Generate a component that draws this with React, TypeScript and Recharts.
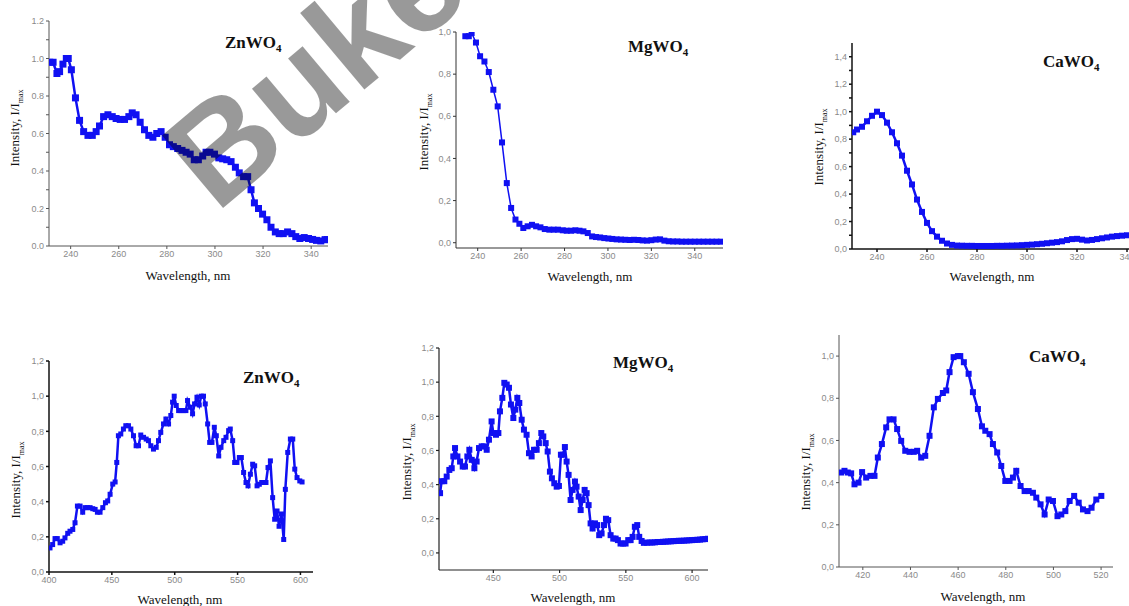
import React from 'react';
import {LineChart, Line, XAxis, YAxis} from 'recharts';

// [wavelength nm, I/Imax] pairs
const znExc = [
    [231.3, 0.98], [232.7, 0.98], [234.3, 0.92], [235.4, 0.93], [236.8, 0.97], [238.2, 1.0], [239, 1.0],
    [240.3, 0.94], [242, 0.79], [243.7, 0.67], [245.4, 0.61], [247.2, 0.59], [249, 0.59], [250.6, 0.61],
    [252, 0.64], [253.7, 0.69], [255.5, 0.70], [257.3, 0.69], [258.9, 0.68], [260.6, 0.675], [262.4, 0.675],
    [264.2, 0.69], [265.6, 0.71], [267.2, 0.70], [268.9, 0.66], [270.7, 0.62], [272.5, 0.59], [274.2, 0.58],
    [275.8, 0.60], [277.6, 0.61], [279.3, 0.58], [281.1, 0.54], [282.7, 0.53], [284.5, 0.52], [286.3, 0.51],
    [288, 0.50], [289.7, 0.49], [291.4, 0.46], [293.1, 0.46], [294.9, 0.48], [296.3, 0.50], [297.9, 0.50],
    [299.8, 0.49], [301.6, 0.47], [303.2, 0.465], [304.9, 0.46], [306.7, 0.45], [308.5, 0.42], [310.1, 0.39],
    [311.9, 0.37], [313.6, 0.37], [315, 0.30], [316.4, 0.23], [318.1, 0.20], [319.8, 0.17], [321.6, 0.14],
    [323.3, 0.10], [325.1, 0.075], [326.7, 0.066], [328.4, 0.066], [330.2, 0.075], [332, 0.066], [333.6, 0.05],
    [335.3, 0.04], [337.1, 0.045], [338.9, 0.04], [340.6, 0.035], [342.2, 0.03], [344, 0.027], [345.8, 0.034],
    [346.8, 0.034],
];

const mgExc = [
    [234.3, 0.98], [235.9, 0.98], [237.2, 0.995], [239.2, 0.95], [241.1, 0.885], [243.1, 0.86], [245.1, 0.81],
    [247.2, 0.726], [249.2, 0.647], [251.2, 0.476], [253.4, 0.283], [255.4, 0.165], [257.4, 0.11], [259.2, 0.09],
    [261, 0.07], [263, 0.078], [265, 0.085], [266.9, 0.078], [268.9, 0.073], [270.9, 0.065], [273, 0.062],
    [275, 0.062], [277, 0.062], [279.2, 0.059], [281, 0.057], [283, 0.057], [285, 0.059], [286.9, 0.057],
    [288.7, 0.054], [290.7, 0.046], [292.7, 0.03], [294.5, 0.027], [296.4, 0.025], [298.3, 0.022], [300.2, 0.02],
    [302, 0.018], [304, 0.016], [306, 0.015], [308, 0.014], [310, 0.013], [312, 0.014], [314, 0.013],
    [316, 0.011], [318, 0.01], [320, 0.012], [322, 0.015], [324, 0.016], [326, 0.01], [328, 0.007],
    [330, 0.006], [332, 0.006], [334, 0.005], [336, 0.005], [338, 0.005], [340, 0.005], [342, 0.005],
    [344, 0.005], [346, 0.005], [348, 0.005], [350, 0.005], [352, 0.005],
];

const caExc = [
    [230.5, 0.85], [232, 0.87], [234, 0.89], [236, 0.93], [238, 0.97], [240, 1.0], [242, 0.975], [244, 0.92],
    [246, 0.85], [248, 0.77], [250, 0.68], [252, 0.57], [254, 0.47], [256, 0.36], [258, 0.27], [260, 0.19],
    [262, 0.13], [264, 0.09], [266, 0.06], [268, 0.04], [270, 0.03], [272, 0.025], [274, 0.024], [276, 0.023],
    [278, 0.023], [280, 0.022], [282, 0.022], [284, 0.022], [286, 0.022], [288, 0.023], [290, 0.023],
    [292, 0.024], [294, 0.025], [296, 0.026], [298, 0.028], [300, 0.03], [302, 0.032], [304, 0.035],
    [306, 0.038], [308, 0.042], [310, 0.046], [312, 0.05], [314, 0.056], [316, 0.065], [318, 0.072],
    [320, 0.074], [322, 0.068], [324, 0.062], [326, 0.066], [328, 0.072], [330, 0.078], [332, 0.084],
    [334, 0.09], [336, 0.094], [338, 0.097], [340, 0.1], [342, 0.1], [344, 0.1],
];

const znEm = [
    [400.8, 0.137], [402.9, 0.156], [404.8, 0.19], [406.6, 0.19], [408.8, 0.166], [410.9, 0.175], [412.7, 0.194],
    [414.9, 0.22], [416.7, 0.232], [418.9, 0.242], [420.7, 0.28], [422.6, 0.375], [424.7, 0.375], [426.8, 0.34],
    [428.7, 0.366], [430.5, 0.366], [432.7, 0.366], [434.8, 0.36], [436.7, 0.356], [438.5, 0.34], [440.6, 0.34],
    [442.8, 0.366], [444.9, 0.394], [446.7, 0.404], [448.6, 0.442], [450.7, 0.5], [452.6, 0.512], [453.9, 0.623],
    [455.2, 0.775], [457.1, 0.785], [459.2, 0.813], [461.1, 0.832], [463.2, 0.832], [465.1, 0.813], [467.2, 0.775],
    [469.3, 0.718], [471.2, 0.718], [473, 0.779], [475.2, 0.766], [477.3, 0.756], [479.1, 0.747], [481, 0.718],
    [483.1, 0.699], [485.3, 0.709], [487.1, 0.747], [488.9, 0.794], [491.1, 0.842], [493, 0.87], [495.1, 0.842],
    [496.9, 0.89], [498.3, 0.966], [499.6, 1.0], [501.2, 0.947], [503.1, 0.918], [504.9, 0.918], [507, 0.918],
    [508.9, 0.918], [510.2, 0.975], [512.4, 0.937], [514.2, 0.9], [515.8, 0.956], [517.7, 0.994], [519.5, 0.95],
    [521.1, 1.0], [522.9, 1.0], [524.3, 0.956], [526.2, 0.842], [527.8, 0.737], [529.6, 0.737], [531.5, 0.823],
    [533.1, 0.775], [535, 0.66], [536.8, 0.709], [539, 0.747], [540.8, 0.766], [542.9, 0.804], [544.2, 0.813],
    [546.1, 0.747], [547.7, 0.623], [549.5, 0.623], [551.4, 0.651], [553, 0.651], [554.8, 0.566], [556.7, 0.509],
    [558.3, 0.49], [560.2, 0.556], [562, 0.613], [563.6, 0.604], [565.5, 0.49], [567.3, 0.499], [569.2, 0.509],
    [570.8, 0.509], [572.6, 0.509], [574.2, 0.594], [576.1, 0.632], [577.9, 0.423], [579.5, 0.3], [581.4, 0.347],
    [583, 0.26], [584.9, 0.33], [586.7, 0.185], [588, 0.47], [589.9, 0.68], [592, 0.756], [593.9, 0.756],
    [595.5, 0.585], [597.3, 0.537], [599.5, 0.518], [601.3, 0.512],
];

const mgEm = [
    [409.8, 0.35], [411, 0.42], [413, 0.42], [414.8, 0.447], [416.8, 0.486], [418.6, 0.496], [419.8, 0.565],
    [421.1, 0.614], [422.9, 0.565], [424.9, 0.535], [426.9, 0.506], [428.6, 0.506], [430.4, 0.565], [431.9, 0.604],
    [433.7, 0.545], [435.7, 0.496], [437.4, 0.535], [439.2, 0.614], [441.2, 0.624], [443, 0.624], [445, 0.604],
    [446.7, 0.663], [448.7, 0.77], [450, 0.702], [452, 0.692], [453.8, 0.702], [455, 0.829], [456.8, 0.908],
    [458.3, 0.996], [460.1, 0.986], [461.8, 0.967], [463.3, 0.869], [465.1, 0.79], [466.6, 0.839], [468.1, 0.908],
    [469.6, 0.878], [471.4, 0.78], [473.1, 0.722], [475.1, 0.692], [476.9, 0.584], [478.9, 0.565], [480.7, 0.604],
    [482.7, 0.604], [484.4, 0.643], [486.2, 0.702], [487.7, 0.682], [489.5, 0.643], [491, 0.594], [492.7, 0.476],
    [494.2, 0.437], [496, 0.408], [497.8, 0.388], [499.5, 0.392], [501, 0.575], [502.5, 0.575], [504, 0.62],
    [505.3, 0.535], [506.8, 0.457], [508.3, 0.31], [509.8, 0.369], [511.6, 0.418], [512.8, 0.388], [514.4, 0.33],
    [515.9, 0.251], [517.4, 0.31], [518.9, 0.369], [520.4, 0.35], [521.9, 0.28], [523.4, 0.173], [524.9, 0.143],
    [526.7, 0.173], [528.4, 0.163], [529.9, 0.104], [531.7, 0.114], [533.5, 0.163], [535, 0.2], [536.7, 0.192],
    [538.5, 0.104], [540.5, 0.084], [542.3, 0.084], [544, 0.075], [546, 0.055], [548, 0.055], [549.8, 0.055],
    [551.8, 0.075], [553.6, 0.075], [555.1, 0.094], [556.8, 0.153], [558.6, 0.163], [560.1, 0.094], [561.9, 0.07],
    [563.6, 0.059], [566, 0.06], [568, 0.061], [570, 0.061], [572, 0.062], [574, 0.064], [576, 0.064],
    [578, 0.065], [580, 0.066], [582, 0.067], [584, 0.068], [586, 0.069], [588, 0.07], [590, 0.071],
    [592, 0.071], [594, 0.072], [596, 0.073], [598, 0.074], [600, 0.075], [602, 0.076], [604, 0.077],
    [606, 0.078], [608, 0.08], [610, 0.081], [612, 0.083],
];

const caEm = [
    [410.9, 0.448], [412.3, 0.456], [413.7, 0.448], [415.1, 0.444], [416.5, 0.392], [418.2, 0.4], [419.7, 0.45],
    [421.4, 0.424], [423.2, 0.432], [424.9, 0.432], [426.3, 0.519], [428, 0.583], [429.8, 0.662], [431.2, 0.7],
    [432.9, 0.7], [434.4, 0.654], [436.1, 0.598], [437.8, 0.551], [439.6, 0.546], [441.4, 0.546], [442.8, 0.551],
    [444.5, 0.519], [446.2, 0.527], [448, 0.622], [449.8, 0.757], [451.5, 0.797], [453.6, 0.825], [455, 0.837],
    [456.4, 0.924], [458.1, 0.995], [459.9, 1.0], [460.9, 1.0], [462.4, 0.971], [464.4, 0.916], [466.2, 0.829],
    [468.3, 0.749], [470, 0.667], [471.4, 0.646], [473.2, 0.63], [474.6, 0.583], [476.4, 0.543], [478.1, 0.479],
    [479.8, 0.408], [481.6, 0.408], [483, 0.424], [484.4, 0.456], [486.2, 0.384], [487.9, 0.36], [489.6, 0.36],
    [491.4, 0.352], [492.8, 0.329], [494.6, 0.297], [496.3, 0.249], [498, 0.32], [499.8, 0.313], [501.7, 0.241],
    [503.3, 0.249], [505, 0.265], [506.8, 0.313], [508.7, 0.337], [510.6, 0.305], [512.4, 0.273], [514.3, 0.265],
    [516, 0.281], [518, 0.32], [520.1, 0.337],
];

const excTicks = [240, 260, 280, 300, 320, 340];
const znEmTicks = [400, 450, 500, 550, 600];
const mgEmTicks = [450, 500, 550, 600];
const caEmTicks = [420, 440, 460, 480, 500, 520];
const yTicks12 = [0, 0.1, 0.2, 0.3, 0.4, 0.5, 0.6, 0.7, 0.8, 0.9, 1.0, 1.1, 1.2];
const yTicks12Major = [0, 0.2, 0.4, 0.6, 0.8, 1.0, 1.2];
const yTicks10 = [0, 0.2, 0.4, 0.6, 0.8, 1.0];
const yTicks14 = [0, 0.1, 0.2, 0.3, 0.4, 0.5, 0.6, 0.7, 0.8, 0.9, 1.0, 1.1, 1.2, 1.3, 1.4];

const BLUE = '#1010f2';
const Y_W = 40;
const X_H = 20;
const PAD = 5;

function squareDot(size: number) {
    return (props: any) => {
        const {cx, cy, index} = props;
        if (cx == null || cy == null) return <g key={index}/>;
        return <rect key={index} x={cx - size / 2} y={cy - size / 2} width={size} height={size} fill={BLUE}/>;
    };
}

function fmt(comma: boolean) {
    return (v: number) => {
        if (Math.round(v * 10) % 2 === 1) return '';
        const s = v.toFixed(1);
        return comma ? s.replace('.', ',') : s;
    };
}

function Panel(p: any) {
    const data = p.points.map((d: number[]) => ({x: d[0], y: d[1]}));
    const w = Y_W + (p.right - p.left) + PAD;
    const h = PAD + (p.bottom - p.top) + X_H;
    const axis = {stroke: p.axisColor, strokeWidth: p.axisWidth};
    const tick = {fontSize: 9, fill: '#8a8a8a', fontFamily: 'Liberation Sans, Arial, sans-serif'};
    return (
        <div style={{position: 'absolute', left: p.left - Y_W, top: p.top - PAD}}>
            <LineChart width={w} height={h} data={data} margin={{top: PAD, right: PAD, bottom: 0, left: 0}}>
                <XAxis type="number" dataKey="x" domain={p.xDomain} ticks={p.xTicks} allowDataOverflow
                       height={X_H} axisLine={axis} tickLine={axis} tickSize={3} tickMargin={2} tick={tick}
                       interval={0}/>
                <YAxis type="number" domain={p.yDomain} ticks={p.yTicks} allowDataOverflow width={Y_W}
                       axisLine={axis} tickLine={axis} tickSize={3} tickMargin={2} tick={tick} interval={0}
                       tickFormatter={fmt(p.comma)}/>
                <Line type="linear" dataKey="y" stroke={BLUE} strokeWidth={p.stroke} dot={squareDot(p.marker)}
                      activeDot={false} isAnimationActive={false}/>
            </LineChart>
        </div>
    );
}

const serif = '"Liberation Serif", "Times New Roman", serif';

function Title({name, x, y}: { name: string; x: number; y: number }) {
    return (
        <div style={{
            position: 'absolute', left: x, top: y - 11, fontFamily: serif, fontWeight: 'bold', fontSize: 17,
            lineHeight: '22px', whiteSpace: 'nowrap', color: '#111'
        }}>
            {name}<sub style={{fontSize: 11}}>4</sub>
        </div>
    );
}

function XLabel({x, y}: { x: number; y: number }) {
    return (
        <div style={{
            position: 'absolute', left: x, top: y, transform: 'translate(-50%, -50%)', fontFamily: serif,
            fontSize: 13, whiteSpace: 'nowrap', color: '#111'
        }}>
            Wavelength, nm
        </div>
    );
}

function YLabel({x, y}: { x: number; y: number }) {
    return (
        <div style={{
            position: 'absolute', left: x, top: y, transform: 'translate(-50%, -50%) rotate(-90deg)',
            fontFamily: serif, fontSize: 13, whiteSpace: 'nowrap', color: '#111'
        }}>
            Intensity, I/I<sub style={{fontSize: 8}}>max</sub>
        </div>
    );
}

export default function App() {
    return (
        <div style={{
            position: 'absolute', left: 0, top: 0, width: 1129, height: 606, overflow: 'hidden',
            background: '#fff'
        }}>
            <Panel points={znExc} left={49} right={328} top={21} bottom={246} xDomain={[231, 347]} yDomain={[0, 1.2]}
                   xTicks={excTicks} yTicks={yTicks12} comma={false} marker={7} stroke={2.5}
                   axisColor="#555" axisWidth={1}/>
            <Panel points={mgExc} left={456} right={723} top={32} bottom={248} xDomain={[230, 353]}
                   yDomain={[-0.025, 1.0]} xTicks={excTicks} yTicks={yTicks10} comma marker={6} stroke={1.5}
                   axisColor="#333" axisWidth={1}/>
            <Panel points={caExc} left={852} right={1152} top={43} bottom={249} xDomain={[230, 350]}
                   yDomain={[0, 1.5]} xTicks={excTicks} yTicks={yTicks14} comma marker={6} stroke={2.5}
                   axisColor="#111" axisWidth={1.5}/>
            <Panel points={znEm} left={49} right={313} top={361} bottom={572} xDomain={[400, 610]}
                   yDomain={[0, 1.2]} xTicks={znEmTicks} yTicks={yTicks12Major} comma marker={5} stroke={2.5}
                   axisColor="#111" axisWidth={1.5}/>
            <Panel points={mgEm} left={439} right={708} top={348} bottom={570} xDomain={[409, 612]}
                   yDomain={[-0.1, 1.2]} xTicks={mgEmTicks} yTicks={yTicks12Major} comma marker={6} stroke={2.5}
                   axisColor="#222" axisWidth={1.2}/>
            <Panel points={caEm} left={839} right={1113} top={335} bottom={567} xDomain={[410, 525]}
                   yDomain={[0, 1.1]} xTicks={caEmTicks} yTicks={yTicks10} comma marker={6} stroke={2.5}
                   axisColor="#555" axisWidth={1}/>

            <Title name="ZnWO" x={225} y={43}/>
            <Title name="MgWO" x={628} y={47}/>
            <Title name="CaWO" x={1043} y={62}/>
            <Title name="ZnWO" x={243} y={378}/>
            <Title name="MgWO" x={613} y={363}/>
            <Title name="CaWO" x={1029} y={357}/>

            <XLabel x={188} y={276}/>
            <XLabel x={590} y={277}/>
            <XLabel x={992} y={277}/>
            <XLabel x={180} y={600}/>
            <XLabel x={573} y={598}/>
            <XLabel x={983} y={597}/>

            <YLabel x={16} y={128}/>
            <YLabel x={425} y={132}/>
            <YLabel x={820} y={147}/>
            <YLabel x={17} y={480}/>
            <YLabel x={408} y={462}/>
            <YLabel x={807} y={472}/>

            <svg width={1129} height={606} style={{position: 'absolute', left: 0, top: 0, pointerEvents: 'none'}}>
                <text x={216} y={214} transform="rotate(-40 216 214)" fontSize={138} fontWeight="bold"
                      fontFamily="Liberation Sans, Arial, sans-serif" fill="#000" fillOpacity={0.4}>
                    Buke
                </text>
            </svg>
        </div>
    );
}
